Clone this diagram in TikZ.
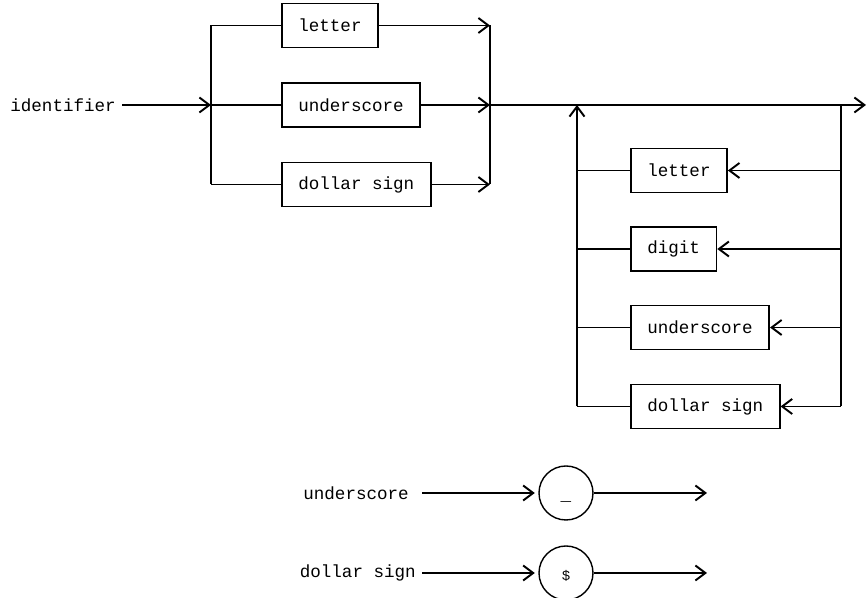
\documentclass[tikz,border=0pt]{standalone}
\usepackage{fontspec}
\setmainfont{Liberation Mono}
\usetikzlibrary{positioning,arrows.meta}

\begin{document}
\begin{tikzpicture}[box/.style={draw,line width=0.9pt,minimum height=0.88cm,inner xsep=0.33cm},
  flow/.style={line width=1.1pt,-{Straight Barb[length=2mm,width=3mm]}},
  plain/.style={line width=1.1pt},
  sign/.style={circle,draw,line width=0.8pt,minimum size=1.08cm,text height=8pt,text depth=0pt}]
 \useasboundingbox (0,0) rectangle (17.34,11.96);

 %Coordinates
 \coordinate (splitTop) at (4.22,11.45);
 \coordinate (split) at (4.22,9.86);
 \coordinate (splitBottom) at (4.22,8.27);
 \coordinate (joinTop) at (9.8,11.45);
 \coordinate (join) at (9.8,9.86);
 \coordinate (joinBottom) at (9.8,8.27);
 \coordinate (loopLeft) at (11.54,9.86);
 \coordinate (loopRight) at (16.82,9.86);
 \coordinate (exit) at (17.32,9.86);
 \coordinate (underscoreEnd) at (14.14,2.1);
 \coordinate (dollarEnd) at (14.14,0.5);

 %Name
 \node (identifier) [anchor=east] at (2.44,9.86) {identifier};

 \node (letterA) [box, right=1.4cm of splitTop] {letter};
 \node (underscoreA) [box, right=1.4cm of split] {underscore};
 \node (dollarA) [box, right=1.4cm of splitBottom] {dollar sign};

 %First character
 \draw[flow] (identifier) -- (split);
 \draw[plain] (splitTop) -- (splitBottom);
 \draw[plain] (joinTop) -- (joinBottom);
 \draw[plain] (splitTop) -- (letterA);
 \draw[plain] (split) -- (underscoreA);
 \draw[plain] (splitBottom) -- (dollarA);
 \draw[flow] (letterA) -- (joinTop);
 \draw[flow] (underscoreA) -- (join);
 \draw[flow] (dollarA) -- (joinBottom);
 \draw[flow] (join) -- (exit);

 %Loop
 \foreach \n/\y/\txt in {1/8.55/letter,2/6.98/digit,3/5.41/underscore,4/3.83/dollar sign}{
  \coordinate (backL\n) at (11.54,\y);
  \coordinate (backR\n) at (16.82,\y);
  \node (back\n) [box, right=1.06cm of backL\n] {\txt};
  \draw[plain] (back\n) -- (backL\n);
  \draw[flow] (backR\n) -- (back\n);
 }
 \draw[plain] (loopRight) -- (backR4);
 \draw[flow] (backL4) -- (loopLeft);

 %Underscore and dollar sign
 \node (underscoreLabel) [anchor=east] at (8.3,2.1) {underscore};
 \node (underscoreSign) [sign] at (11.32,2.1) {\_};
 \node (dollarLabel) [anchor=east] at (8.44,0.5) {dollar sign};
 \node (dollarSign) [sign,font=\footnotesize] at (11.32,0.5) {\$};

 \draw[flow,shorten >=2pt] ([xshift=4pt]underscoreLabel.east) -- (underscoreSign);
 \draw[flow] (underscoreSign) -- (underscoreEnd);
 \draw[flow,shorten >=2pt] (dollarLabel) -- (dollarSign);
 \draw[flow] (dollarSign) -- (dollarEnd);

\end{tikzpicture}
\end{document}
